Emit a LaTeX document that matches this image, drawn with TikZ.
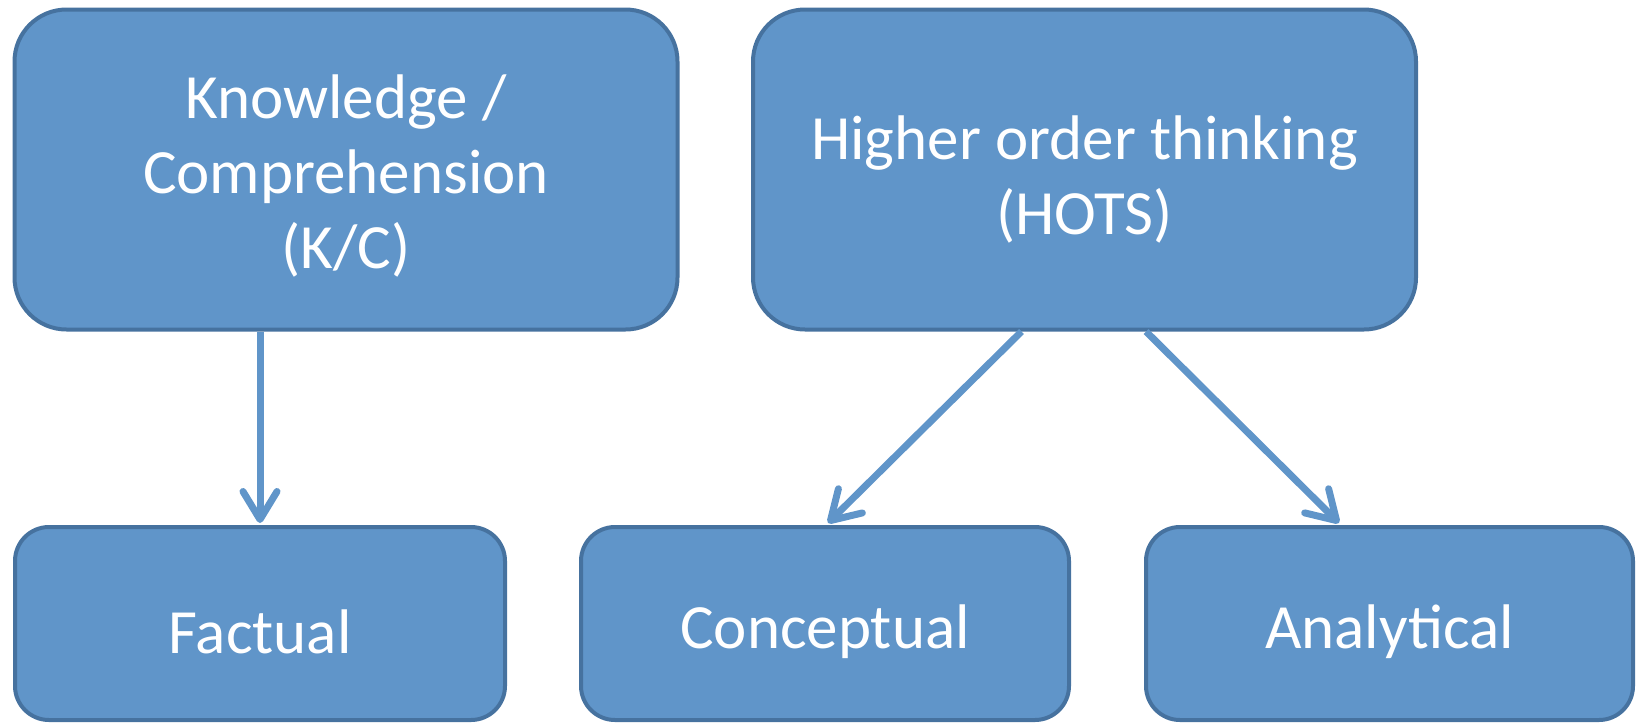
\documentclass[tikz,border=0pt]{standalone}
\usepackage{fontspec}
\setmainfont{Carlito}
\usetikzlibrary{arrows.meta,calc}
\definecolor{boxfill}{HTML}{6095C9}
\definecolor{boxline}{HTML}{46729F}
\definecolor{arrcol}{HTML}{6095C9}
\tikzset{
  box/.style={rectangle, draw=boxline, fill=boxfill, line width=4pt, inner sep=0pt},
  boxtext/.style={text=white, align=center, inner sep=0pt, yshift=-8pt,
    font=\fontsize{63}{75}\selectfont},
  bigbox/.style={box, rounded corners=52pt, minimum width=663pt, minimum height=320pt},
  smallbox/.style={box, rounded corners=34pt, minimum height=193pt},
  conn/.style={draw=arrcol, line width=7pt,
    -{Straight Barb[length=28pt, width=34pt, round]}},
}
\begin{document}
\begin{tikzpicture}[x=1pt,y=-1pt]
\useasboundingbox (0,0) rectangle (1638,726);
\node[bigbox, label={[boxtext, yshift=2pt]center:Knowledge /\\Comprehension\\(K/C)}] (kc) at (346,169.5) {};
\node[bigbox, label={[boxtext, yshift=-2pt]center:Higher order thinking\\(HOTS)}] (hots) at (1084.5,169.5) {};
\node[smallbox, minimum width=490pt, label={[boxtext]center:Factual}] (fact) at (260,623.5) {};
\node[smallbox, minimum width=488pt, label={[boxtext]center:Conceptual}] (conc) at (825,623.5) {};
\node[smallbox, minimum width=487pt, label={[boxtext]center:Analytical}] (anal) at (1389.5,623.5) {};
\draw[conn] (kc.south -| fact.north) -- ([yshift=2pt]fact.north);
\draw[conn] ([xshift=-63pt]hots.south) -- ([xshift=3pt,yshift=2pt]conc.north);
\draw[conn] ([xshift=61.5pt]hots.south) -- ([xshift=-50.5pt,yshift=2pt]anal.north);
\end{tikzpicture}
\end{document}
